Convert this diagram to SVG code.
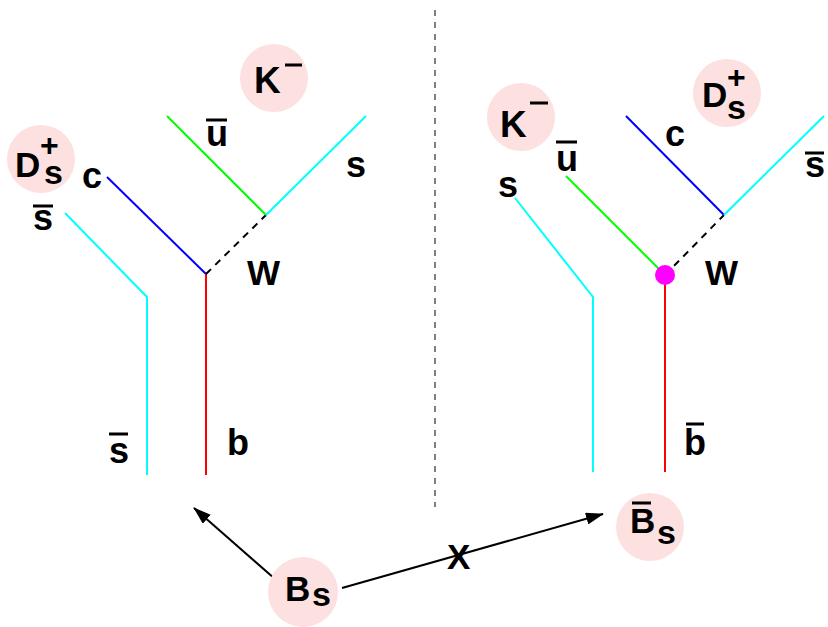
<svg xmlns="http://www.w3.org/2000/svg" width="828" height="627" viewBox="0 0 828 627">
<style>
.t{font-family:"Liberation Sans",Arial,sans-serif;font-weight:bold;font-size:35px;fill:#000}
.lc{font-size:36px}
.sub{font-size:34px}
.plus{font-size:32px}
.blob{fill:#fde0e0}
.q{fill:none;stroke-width:2}
.bar{stroke:#000;stroke-width:3}
</style>
<defs>
<marker id="ah" markerWidth="18" markerHeight="12" refX="17" refY="6" orient="auto" markerUnits="userSpaceOnUse">
<path d="M0,0 L18,6 L0,12 Z" fill="#000"/>
</marker>
</defs>
<line x1="435" y1="10" x2="435" y2="507" stroke="#555" stroke-width="1.5" stroke-dasharray="6,6"/>
<g id="connectors">
<polyline class="q" stroke="#00ffff" points="65,213 147,297 147,475"/>
<line class="q" stroke="#0000ff" x1="107" y1="177" x2="206" y2="274"/>
<line class="q" stroke="#ff0000" x1="206" y1="274" x2="206" y2="475"/>
<line class="q" stroke="#000" stroke-dasharray="7,6" x1="206" y1="274" x2="266" y2="215"/>
<line class="q" stroke="#00ff00" x1="167" y1="116" x2="266" y2="215"/>
<line class="q" stroke="#00ffff" x1="266" y1="215" x2="366" y2="116"/>
<polyline class="q" stroke="#00ffff" points="515,198 593,297 593,472"/>
<line class="q" stroke="#00ff00" x1="566" y1="176" x2="665" y2="275"/>
<line class="q" stroke="#ff0000" x1="665" y1="275" x2="665" y2="472"/>
<line class="q" stroke="#000" stroke-dasharray="7,6" x1="665" y1="275" x2="724" y2="215"/>
<line class="q" stroke="#0000ff" x1="626" y1="116" x2="724" y2="215"/>
<line class="q" stroke="#00ffff" x1="724" y1="215" x2="824" y2="116"/>
<line stroke="#000" stroke-width="2" x1="275" y1="579" x2="194" y2="508" marker-end="url(#ah)"/>
<line stroke="#000" stroke-width="2" x1="342" y1="588" x2="603" y2="514" marker-end="url(#ah)"/>
</g>
<g id="vertex"><circle cx="665" cy="275" r="10" fill="#ff00ff"/></g>
<g id="Ds_left">
<circle class="blob" cx="41" cy="159" r="34"/>
<text class="t" x="15" y="177">D</text>
<text class="t sub" x="44" y="184">s</text>
<text class="t plus" x="40" y="156">+</text>
</g>
<g id="K_left">
<circle class="blob" cx="274" cy="78" r="34"/>
<text class="t" x="254" y="93" style="font-size:37px">K</text>
<line class="bar" x1="285" y1="65" x2="302" y2="65"/>
</g>
<g id="K_right">
<circle class="blob" cx="521" cy="117" r="34"/>
<text class="t" x="500" y="137" style="font-size:37px">K</text>
<line class="bar" x1="530" y1="103" x2="548" y2="103"/>
</g>
<g id="Ds_right">
<circle class="blob" cx="727" cy="93" r="34"/>
<text class="t" x="702" y="107">D</text>
<text class="t sub" x="727" y="119">s</text>
<text class="t plus" x="727" y="88">+</text>
</g>
<g id="Bsbar">
<circle class="blob" cx="650" cy="527" r="34"/>
<text class="t" x="630" y="533">B</text>
<line class="bar" x1="632" y1="503" x2="651" y2="503"/>
<text class="t sub" x="657" y="544">s</text>
</g>
<g id="Bs">
<circle class="blob" cx="303" cy="592" r="35"/>
<text class="t" x="285" y="601">B</text>
<text class="t sub" x="312" y="606">s</text>
</g>
<g id="labels">
<text class="t lc" x="82" y="188">c</text>
<text class="t lc" x="33" y="230">s</text>
<line class="bar" x1="33" y1="206" x2="53" y2="206"/>
<text class="t lc" x="206" y="146">u</text>
<line class="bar" x1="206" y1="120" x2="227" y2="120"/>
<text class="t lc" x="346" y="177">s</text>
<text class="t" x="247" y="285">W</text>
<text class="t lc" x="109" y="463">s</text>
<line class="bar" x1="109" y1="434" x2="128" y2="434"/>
<text class="t lc" x="227" y="455">b</text>
<text class="t lc" x="498" y="197">s</text>
<text class="t lc" x="556" y="171">u</text>
<line class="bar" x1="556" y1="142" x2="577" y2="142"/>
<text class="t lc" x="665" y="146">c</text>
<text class="t lc" x="805" y="177">s</text>
<line class="bar" x1="805" y1="153" x2="824" y2="153"/>
<text class="t" x="705" y="285">W</text>
<text class="t lc" x="684" y="455">b</text>
<line class="bar" x1="686" y1="424" x2="704" y2="424"/>
<text class="t" x="447" y="569">X</text>
</g>
</svg>
